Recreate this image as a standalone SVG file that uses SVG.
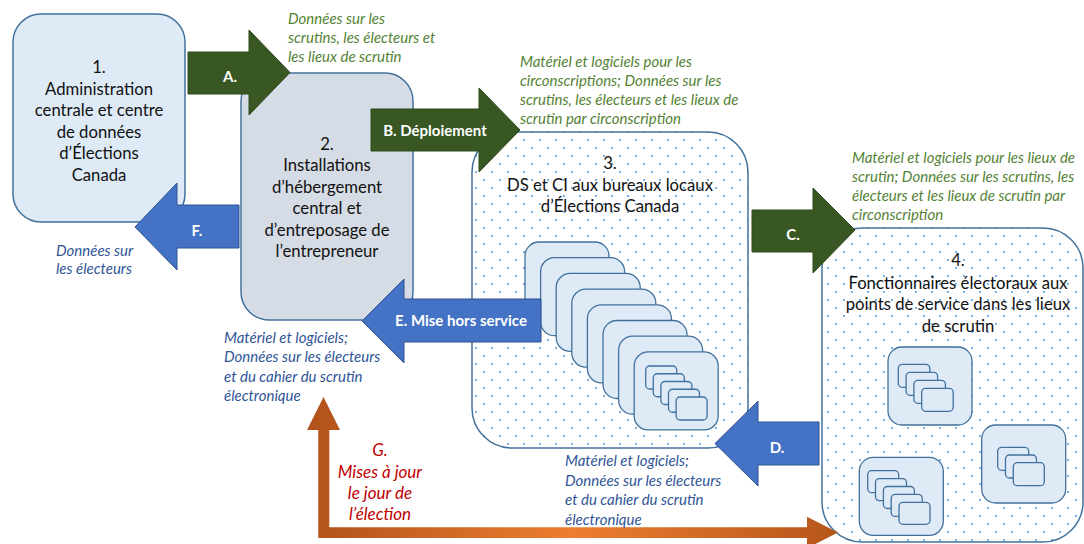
<svg xmlns="http://www.w3.org/2000/svg" width="1084" height="544" viewBox="0 0 1084 544">
<defs>
<style>
.node{stroke:#41719c;stroke-width:1.5}
.n1{fill:#deebf7}
.n2{fill:#d6dce5}
.dot{fill:url(#dots)}
.card{fill:#deebf7;stroke:#41719c;stroke-width:1.3}
.mini{fill:#deebf7;stroke:#41719c;stroke-width:1.3}
.t{font-family:Lato,"Liberation Sans",sans-serif;font-size:16.7px;fill:#111;text-anchor:middle}
.lab{font-family:Lato,"Liberation Sans",sans-serif;font-size:15px;font-style:italic}
.g{fill:#548235}
.b{fill:#2f5597}
.r{font-family:Lato,"Liberation Sans",sans-serif;font-size:17px;font-style:italic;fill:#c00000;text-anchor:middle}
.al{font-family:Lato,"Liberation Sans",sans-serif;font-size:15px;font-weight:bold;fill:#fff;text-anchor:middle}
.ag{fill:#385723;stroke:#2e4a1d;stroke-width:1}
.ab{fill:#4472c4;stroke:#2f528f;stroke-width:1}
</style>
<pattern id="dots" patternUnits="userSpaceOnUse" width="16" height="16">
<rect width="16" height="16" fill="#fff"/>
<circle cx="4" cy="4" r="1.05" fill="#5b9bd5"/>
<circle cx="12" cy="12" r="1.05" fill="#5b9bd5"/>
</pattern>
<linearGradient id="og" gradientUnits="userSpaceOnUse" x1="307" y1="0" x2="840" y2="0">
<stop offset="0" stop-color="#b0521a"/>
<stop offset="0.5" stop-color="#ed7d31"/>
<stop offset="1" stop-color="#b5561a"/>
</linearGradient>
</defs>
<rect width="1084" height="544" fill="#fff"/>

<g id="node1">
<rect class="node n1" x="13" y="14" width="172" height="208" rx="28"/>
<text class="t"><tspan x="99" y="73">1.</tspan><tspan x="99" y="94.5">Administration</tspan><tspan x="99" y="116">centrale et centre</tspan><tspan x="99" y="137.5">de données</tspan><tspan x="99" y="159">d’Élections</tspan><tspan x="99" y="180.5">Canada</tspan></text>
</g>

<g id="node2">
<rect class="node n2" x="241" y="73" width="172" height="247" rx="28"/>
<text class="t"><tspan x="327" y="149.5">2.</tspan><tspan x="327" y="171">Installations</tspan><tspan x="327" y="192.5">d’hébergement</tspan><tspan x="327" y="214">central et</tspan><tspan x="327" y="235.5">d’entreposage de</tspan><tspan x="327" y="257">l’entrepreneur</tspan></text>
</g>

<g id="node3">
<rect class="node dot" x="472" y="132" width="276" height="316" rx="40"/>
<text class="t"><tspan x="610" y="169">3.</tspan><tspan x="610" y="190.5">DS et CI aux bureaux locaux</tspan><tspan x="610" y="212">d’Élections Canada</tspan></text>
<rect class="card" x="525" y="242" width="84" height="78" rx="14"/>
<rect class="card" x="540.6" y="257.7" width="84" height="78" rx="14"/>
<rect class="card" x="556.2" y="273.4" width="84" height="78" rx="14"/>
<rect class="card" x="571.8" y="289.1" width="84" height="78" rx="14"/>
<rect class="card" x="587.4" y="304.8" width="84" height="78" rx="14"/>
<rect class="card" x="603" y="320.5" width="84" height="78" rx="14"/>
<rect class="card" x="618.6" y="336.2" width="84" height="78" rx="14"/>
<rect class="card" x="634.2" y="351.9" width="84" height="78" rx="14"/>
<rect class="mini" x="645.7" y="366" width="31" height="23" rx="4"/>
<rect class="mini" x="653.3" y="373.75" width="31" height="23" rx="4"/>
<rect class="mini" x="660.9" y="381.5" width="31" height="23" rx="4"/>
<rect class="mini" x="668.5" y="389.25" width="31" height="23" rx="4"/>
<rect class="mini" x="676.1" y="397" width="31" height="23" rx="4"/>
</g>

<g id="node4">
<rect class="node dot" x="822" y="228" width="261" height="314" rx="40"/>
<text class="t"><tspan x="958" y="266">4.</tspan><tspan x="958" y="288.5">Fonctionnaires électoraux aux</tspan><tspan x="958" y="310">points de service dans les lieux</tspan><tspan x="958" y="331.5">de scrutin</tspan></text>
<rect class="card" x="888" y="347" width="84" height="78" rx="14"/>
<rect class="mini" x="898.3" y="364.3" width="31.5" height="23" rx="4"/>
<rect class="mini" x="906.1" y="372.3" width="31.5" height="23" rx="4"/>
<rect class="mini" x="913.9" y="380.3" width="31.5" height="23" rx="4"/>
<rect class="mini" x="921.7" y="388.3" width="31.5" height="23" rx="4"/>
<rect class="card" x="981.7" y="425" width="84" height="78" rx="14"/>
<rect class="mini" x="997.7" y="447.3" width="31" height="23" rx="4"/>
<rect class="mini" x="1005.5" y="455" width="31" height="23" rx="4"/>
<rect class="mini" x="1013.3" y="462.7" width="31" height="23" rx="4"/>
<rect class="card" x="859.3" y="457.3" width="84" height="78" rx="14"/>
<rect class="mini" x="867.7" y="470.7" width="31" height="22" rx="4"/>
<rect class="mini" x="875.5" y="478.6" width="31" height="22" rx="4"/>
<rect class="mini" x="883.4" y="486.5" width="31" height="22" rx="4"/>
<rect class="mini" x="891.2" y="494.4" width="31" height="22" rx="4"/>
<rect class="mini" x="899" y="502.3" width="31" height="22" rx="4"/>
</g>

<g id="connectors">
<polygon class="ag" points="188,52 249,52 249,30 290,72.5 249,115 249,94 188,94"/>
<polygon class="ag" points="371,109 479,109 479,88 520,130 479,172 479,151 371,151"/>
<polygon class="ag" points="752,210 813,210 813,188 855,230 813,273 813,252 752,252"/>
<polygon class="ab" points="819,422 758,422 758,401 715,443.5 758,486 758,465 819,465"/>
<polygon class="ab" points="541,299 404,299 404,279 362,321 404,363 404,342 541,342"/>
<polygon class="ab" points="239,205 177,205 177,183 135,227 177,270 177,248 239,248"/>
<polygon fill="url(#og)" points="323.5,397 340,430 329.3,430 329.3,527.3 807,527.3 807,516.7 838,532.5 807,548.3 807,538 318.3,538 318.3,430 307,430"/>
<text class="al" x="230" y="81.5">A.</text>
<text class="al" x="435" y="135.5">B. Déploiement</text>
<text class="al" x="793" y="239.5">C.</text>
<text class="al" x="777" y="452.5">D.</text>
<text class="al" x="461" y="326">E. Mise hors service</text>
<text class="al" x="197" y="235.5">F.</text>
<text class="lab g"><tspan x="288" y="24">Données sur les</tspan><tspan x="288" y="43">scrutins, les électeurs et</tspan><tspan x="288" y="62">les lieux de scrutin</tspan></text>
<text class="lab g"><tspan x="520" y="67">Matériel et logiciels pour les</tspan><tspan x="520" y="86">circonscriptions; Données sur les</tspan><tspan x="520" y="105">scrutins, les électeurs et les lieux de</tspan><tspan x="520" y="124">scrutin par circonscription</tspan></text>
<text class="lab g"><tspan x="852" y="163">Matériel et logiciels pour les lieux de</tspan><tspan x="852" y="182">scrutin; Données sur les scrutins, les</tspan><tspan x="852" y="201">électeurs et les lieux de scrutin par</tspan><tspan x="852" y="220">circonscription</tspan></text>
<text class="lab b"><tspan x="56" y="256">Données sur</tspan><tspan x="56" y="274">les électeurs</tspan></text>
<text class="lab b"><tspan x="224" y="343">Matériel et logiciels;</tspan><tspan x="224" y="362.3">Données sur les électeurs</tspan><tspan x="224" y="381.6">et du cahier du scrutin</tspan><tspan x="224" y="401">électronique</tspan></text>
<text class="lab b"><tspan x="565" y="466">Matériel et logiciels;</tspan><tspan x="565" y="485.5">Données sur les électeurs</tspan><tspan x="565" y="505">et du cahier du scrutin</tspan><tspan x="565" y="524.5">électronique</tspan></text>
<text class="r"><tspan x="380" y="456">G.</tspan><tspan x="380" y="477.5">Mises à jour</tspan><tspan x="380" y="499">le jour de</tspan><tspan x="380" y="520">l’élection</tspan></text>
</g>
</svg>
